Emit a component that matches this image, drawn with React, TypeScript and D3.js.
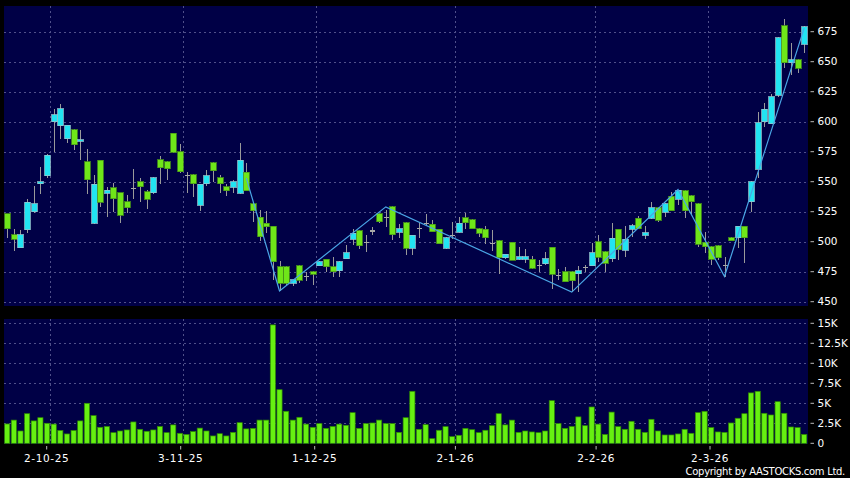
import * as d3 from 'd3';

const W = 850;
const H = 478;
const plotL = 4;
const plotR = 808;
const priceTop = 6;
const priceBot = 306;
const volTop = 319;
const volBot = 444;

// daily candles, 121 sessions
const opens = [523.5,506,495,510,525,548.5,555,600,596.5,586,593.5,584,566.5,515.5,568,540.5,545,541,533.5,544.5,550,541.5,541,568.5,566.5,590.5,575,555.5,556,530.5,
  548.5,566,553.5,546,545.5,540.5,558,531.5,520.5,515.5,513,479,479,465.5,480,471,475,480,485.5,479,476,486,502,509,499.5,509,523.5,520,529,508,
  516,494.5,511,515,514.5,510.5,494.5,505.5,508,520,518.5,511,510.5,498.5,501,486.5,499.5,485.5,485.5,485.5,480.5,481.5,495.5,472,475,475,473.5,478.5,480,500,
  491.5,486,510.5,493,510.5,519.5,505.5,519.5,528.5,524.5,538,535.5,542.5,538.5,531.5,499.5,496,496.5,480,503.5,503.5,513,533.5,560.5,600,598.5,622,680,649,651.5,664.5];
const highs = [523.5,511,510,535.5,546.5,562.5,573.5,611,614.5,597,594,593,577,555.5,568.5,546,549,541,539,560.5,553,543,554,571.5,567,591,581.5,558.5,556.5,548,
  560,566.5,555.5,548.5,551.5,582,566,533.5,526.5,526,513.5,484,480,469,481,475,475.5,484,486,487.5,484,497,510.5,509.5,505.5,512.5,524,526.5,529.5,515,
  516.5,505.5,516.5,523.5,518,511,504,516.5,521,524,519,511.5,513,510,501.5,490,500,495.5,494,488,485,491.5,496,477.5,479,475.5,480,480.5,499,505.5,
  492,516,511,513,515,521.5,513,533.5,529,532,541.5,543.5,543,539,532,508.5,496.5,497,487.5,504,513.5,513.5,550.5,608.5,615.5,623,670.5,685.5,666,652,679.5];
const lows = [503,492,495,507,524,540,553.5,575,586,582,576.5,568,540,514.5,529,521,525,516,524,535.5,533,527,540,548.5,551.5,574,557,540.5,537,526,
  546.5,550,541,538.5,541,540,542,516.5,501,507,468,459,463,463,466,467,464,479.5,475,471,470.5,485.5,497,494,491.5,505.5,516,512.5,501.5,503,
  489,489,503.5,513,508,498,494,502.5,507.5,511,510.5,504,498.5,492.5,473.5,486,484.5,485,482,477.5,475,481,460.5,468,466.5,458,458,475,479.5,483,
  475,483,484.5,487.5,504,511,502,519,516.5,521,525.5,530.5,519.5,523.5,495.5,491,481,485,471,500.5,494.5,482.5,525,553,596,598,621,644.5,639,641,657.5];
const closes = [511,502,506,533,531.5,550,572,606,611,597,581,585,551.5,548,533,543,536,522,528.5,544.5,546,535.5,553.5,561.5,561,574.5,558.5,555.5,548.5,548,
  555,559,548.5,542.5,550,568,542.5,526,504,512.5,483.5,465.5,465.5,468.5,468,471,473,483.5,479,475,483.5,491,507,496.5,499.5,509,516.5,520,506,511,
  494.5,505.5,511,515,508.5,498.5,503.5,505.5,515.5,516,511,507,503.5,498.5,486.5,489.5,484.5,487.5,487.5,478,480.5,486,473,472,466.5,467.5,476,478.5,491,487,
  482,503,493.5,502,513.5,511,507.5,528.5,518,531.5,526,543,526,533.5,498,496,485.5,486.5,480,501,513,503.5,550,599,610.5,621,670,649,651.5,644.5,679];

// volume in thousands
const volumes = [2.42,2.9,1.54,3.7,2.8,3.2,2.5,2.4,1.6,1.17,1.6,2.8,5.0,3.46,2.0,2.1,1.33,1.54,1.67,2.67,1.75,1.5,1.67,2.1,1.33,2.3,1.25,1.1,1.46,1.9,
  1.54,0.92,1.2,0.92,1.37,2.58,1.8,1.87,2.9,2.9,14.8,6.7,4.0,2.9,3.25,2.4,2.0,2.46,1.87,2.1,2.4,2.25,3.83,1.87,2.46,2.54,2.9,2.46,2.46,1.37,
  3.2,6.5,1.75,2.33,0.58,1.63,2.08,0.83,1.0,1.87,1.7,1.33,1.63,2.2,3.7,2.3,2.9,1.37,1.54,1.42,1.33,1.54,5.33,2.46,1.87,2.1,3.3,2.2,4.54,2.4,
  1.1,3.9,2.08,1.75,2.75,1.75,1.37,3.0,1.54,1.04,1.04,1.17,1.75,1.25,3.83,4.0,1.96,1.42,1.37,2.54,3.13,3.7,6.3,6.5,3.75,3.54,5.2,3.75,2.04,1.96,1.1];

// swing line (session index, price)
const zigIdx = [36, 41, 57, 85, 101, 108, 120];
const zigVal = [553, 459, 529, 458, 543.5, 471, 678];

const dateIdx = [6, 26, 46, 67, 88, 105];
const dateLabels = ['2-10-25', '3-11-25', '1-12-25', '2-1-26', '2-2-26', '2-3-26'];
const priceTicks = [450, 475, 500, 525, 550, 575, 600, 625, 650, 675];
const volTicks = [0, 2.5, 5, 7.5, 10, 12.5, 15];
const volTickLabels = ['0', '2.5K', '5K', '7.5K', '10K', '12.5K', '15K'];

const UP = '#22e4f2';
const DOWN = '#6fe619';
const PANEL = '#000046';
const GRID = '#50508a';
const font = '"DejaVu Sans", Verdana, sans-serif';

const App = () => {
  const n = opens.length;
  const x = d3.scaleLinear([0, n - 1], [7.2, 804.2]);
  const step = x(1) - x(0);
  const bw = step * 0.78;
  const xLab = d3.scaleLinear([0, 120], [6.5, 810.5]);
  const y = d3.scaleLinear([450, 675], [301.7, 31.7]);
  const yv = d3.scaleLinear([0, 15], [443.3, 323.3]);
  const zig = d3.line<number>((d, i) => x(zigIdx[i]), (d) => y(d));

  return (
    <svg width={W} height={H} style={{ position: 'absolute', left: 0, top: 0, display: 'block' }}>
      <rect width={W} height={H} fill="#000" />
      <rect x={plotL} y={priceTop} width={plotR - plotL} height={priceBot - priceTop} fill={PANEL} />
      <rect x={plotL} y={volTop} width={plotR - plotL} height={volBot - volTop} fill={PANEL} />

      {/* grid */}
      <g stroke={GRID} strokeWidth={1} strokeDasharray="2,3" shapeRendering="crispEdges">
        {priceTicks.map((t) => (
          <line key={'p' + t} x1={plotL} x2={plotR} y1={Math.round(y(t)) + 0.5} y2={Math.round(y(t)) + 0.5} />
        ))}
        {volTicks.slice(1).map((t) => (
          <line key={'v' + t} x1={plotL} x2={plotR} y1={Math.round(yv(t)) + 0.5} y2={Math.round(yv(t)) + 0.5} />
        ))}
        {dateIdx.map((d) => {
          const gx = Math.round(x(d) + step * 0.48) + 0.5;
          return (
            <g key={'d' + d}>
              <line x1={gx} x2={gx} y1={priceTop} y2={priceBot} />
              <line x1={gx} x2={gx} y1={volTop} y2={volBot} />
            </g>
          );
        })}
      </g>

      {/* candles */}
      <g shapeRendering="crispEdges">
        {opens.map((o, i) => {
          const c = closes[i];
          const cx = Math.round(x(i)) + 0.5;
          const doji = o === c;
          const up = c > o;
          const top = y(Math.max(o, c));
          const bot = y(Math.min(o, c));
          return (
            <g key={i}>
              <line x1={cx} x2={cx} y1={y(highs[i])} y2={y(lows[i])} stroke="#9a9a9a" strokeWidth={1} />
              {doji ? (
                <line x1={cx - bw / 2} x2={cx + bw / 2} y1={top} y2={top} stroke="#a8a8a8" strokeWidth={1.2} />
              ) : (
                <rect
                  x={cx - bw / 2}
                  y={top}
                  width={bw}
                  height={Math.max(1.5, bot - top)}
                  fill={up ? UP : DOWN}
                  stroke={up ? '#8fc6d0' : '#4a9a18'}
                  strokeWidth={0.8}
                />
              )}
            </g>
          );
        })}
      </g>

      <path d={zig(zigVal) as string} fill="none" stroke="#4aa6e6" strokeWidth={1.2} />

      {/* volume */}
      <g>
        {volumes.map((v, i) => (
          <rect
            key={i}
            x={x(i) - bw / 2}
            y={yv(v)}
            width={bw}
            height={yv(0) - yv(v)}
            fill="#66f011"
            stroke="#2f8a00"
            strokeWidth={0.7}
          />
        ))}
      </g>
      <rect x={0} y={priceBot} width={W} height={volTop - priceBot} fill="#000" />

      {/* right axis labels */}
      <g fill="#fff" fontFamily={font} fontSize={10.5}>
        {priceTicks.map((t) => (
          <g key={'pl' + t}>
            <line x1={810.5} x2={814} y1={y(t)} y2={y(t)} stroke="#bbb" />
            <text x={817.5} y={y(t)} dy="0.35em">{t}</text>
          </g>
        ))}
        {volTicks.map((t, i) => (
          <g key={'vl' + t}>
            <line x1={810.5} x2={814} y1={yv(t)} y2={yv(t)} stroke="#bbb" />
            <text x={817.5} y={yv(t)} dy="0.35em">{volTickLabels[i]}</text>
          </g>
        ))}
      </g>

      {/* date axis */}
      <g fill="#fff" fontFamily={font} fontSize={10.5}>
        {dateIdx.map((d, i) => (
          <g key={'dl' + d}>
            <line x1={xLab(d)} x2={xLab(d)} y1={446} y2={449.5} stroke="#bbb" />
            <text x={xLab(d)} y={462} textAnchor="middle" letterSpacing={0.6}>{dateLabels[i]}</text>
          </g>
        ))}
      </g>
      <text x={845} y={475} textAnchor="end" fill="#fff" fontFamily={font} fontSize={10} letterSpacing={-0.3}>
        Copyright by AASTOCKS.com Ltd.
      </text>
    </svg>
  );
};

export default App;
